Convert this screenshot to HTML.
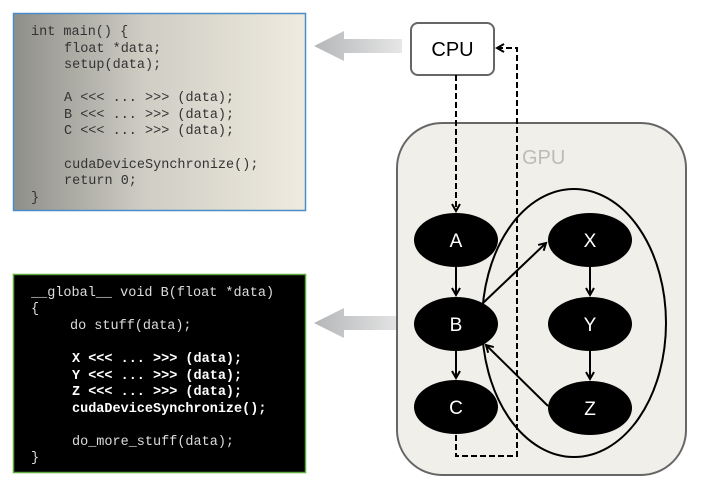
<!DOCTYPE html>
<html><head><meta charset="utf-8"><style>
html,body{margin:0;padding:0;background:#fff;width:701px;height:485px;overflow:hidden}
svg{display:block}
.c{font-family:"Liberation Mono",monospace;font-size:13.5px}
.n{font-family:"Liberation Sans",sans-serif;font-size:19px;fill:#fff;text-anchor:middle}
</style></head><body>
<svg width="701" height="485" viewBox="0 0 701 485" xmlns="http://www.w3.org/2000/svg">
<defs>
<linearGradient id="g1" x1="0" x2="1" y1="0" y2="0">
<stop offset="0" stop-color="#8f8f89"/><stop offset="0.45" stop-color="#cfcdc4"/><stop offset="1" stop-color="#efebe0"/>
</linearGradient>
<linearGradient id="ga" x1="0" x2="1" y1="0" y2="0">
<stop offset="0" stop-color="#b4b6b8"/><stop offset="1" stop-color="#e6e6e6"/>
</linearGradient>
<marker id="ar" markerWidth="10" markerHeight="10" refX="8" refY="5" orient="auto" markerUnits="userSpaceOnUse">
<path d="M1,1 L8,5 L1,9" fill="none" stroke="#000" stroke-width="2"/>
</marker>
</defs>
<rect x="13.5" y="13.5" width="292" height="197" fill="url(#g1)" stroke="#4a8cc8" stroke-width="1.5"/>
<g class="c" fill="#333">
<text x="31" y="35">int main() {</text>
<text x="64" y="52">float *data;</text>
<text x="64" y="68">setup(data);</text>
<text x="64" y="101">A &lt;&lt;&lt; ... &gt;&gt;&gt; (data);</text>
<text x="64" y="118">B &lt;&lt;&lt; ... &gt;&gt;&gt; (data);</text>
<text x="64" y="134">C &lt;&lt;&lt; ... &gt;&gt;&gt; (data);</text>
<text x="64" y="168">cudaDeviceSynchronize();</text>
<text x="64" y="184">return 0;</text>
<text x="31" y="201">}</text>
</g>
<rect x="13.5" y="274.5" width="292" height="198" fill="#000" stroke="#5caa3c" stroke-width="1.5"/>
<g class="c" fill="#ddd">
<text x="31" y="296">__global__ void B(float *data)</text>
<text x="31" y="312">{</text>
<text x="70" y="329">do stuff(data);</text>
<text x="72" y="445">do_more_stuff(data);</text>
<text x="31" y="461">}</text>
</g>
<g class="c" fill="#fff" font-weight="bold">
<text x="72" y="362">X &lt;&lt;&lt; ... &gt;&gt;&gt; (data);</text>
<text x="72" y="379">Y &lt;&lt;&lt; ... &gt;&gt;&gt; (data);</text>
<text x="72" y="395">Z &lt;&lt;&lt; ... &gt;&gt;&gt; (data);</text>
<text x="72" y="412">cudaDeviceSynchronize();</text>
</g>
<path d="M402,39 L344,39 L344,31 L314,46 L344,61 L344,53 L402,53 Z" fill="url(#ga)"/>
<path d="M402,316 L344,316 L344,308 L314,323 L344,338 L344,330 L402,330 Z" fill="url(#ga)"/>
<rect x="397" y="123" width="289" height="352" rx="45" fill="#f1efe9" stroke="#666" stroke-width="2"/>
<text x="522" y="164" font-family="Liberation Sans,sans-serif" font-size="20" fill="#bbb">GPU</text>
<rect x="411" y="23" width="83" height="52" rx="7" fill="#fff" stroke="#666" stroke-width="2"/>
<text x="452.5" y="56" font-family="Liberation Sans,sans-serif" font-size="20" fill="#000" text-anchor="middle">CPU</text>
<path d="M456,75 L456,211" fill="none" stroke="#000" stroke-width="2" stroke-dasharray="6,3" marker-end="url(#ar)"/>
<path d="M456,435 L456,456 L517,456 L517,48 L497,48" fill="none" stroke="#000" stroke-width="2" stroke-dasharray="6,3" marker-end="url(#ar)"/>
<ellipse cx="574" cy="323" rx="92" ry="134" fill="none" stroke="#000" stroke-width="2"/>
<ellipse cx="456" cy="240" rx="42" ry="27" fill="#000"/>
<ellipse cx="456" cy="324" rx="42" ry="27" fill="#000"/>
<ellipse cx="456" cy="407" rx="42" ry="27" fill="#000"/>
<ellipse cx="590" cy="240" rx="42" ry="27" fill="#000"/>
<ellipse cx="590" cy="324" rx="42" ry="27" fill="#000"/>
<ellipse cx="590" cy="408" rx="42" ry="27" fill="#000"/>
<text class="n" x="456" y="247">A</text>
<text class="n" x="456" y="331">B</text>
<text class="n" x="456" y="414">C</text>
<text class="n" x="590" y="247">X</text>
<text class="n" x="590" y="331">Y</text>
<text class="n" x="590" y="415">Z</text>
<g fill="none" stroke="#000" stroke-width="2">
<path d="M456,267 L456,295" marker-end="url(#ar)"/>
<path d="M456,351 L456,378" marker-end="url(#ar)"/>
<path d="M590,267 L590,295" marker-end="url(#ar)"/>
<path d="M590,351 L590,379" marker-end="url(#ar)"/>
<path d="M483,303 L546,243" marker-end="url(#ar)"/>
<path d="M548,406 L486,345" marker-end="url(#ar)"/>
</g>
</svg>
</body></html>
